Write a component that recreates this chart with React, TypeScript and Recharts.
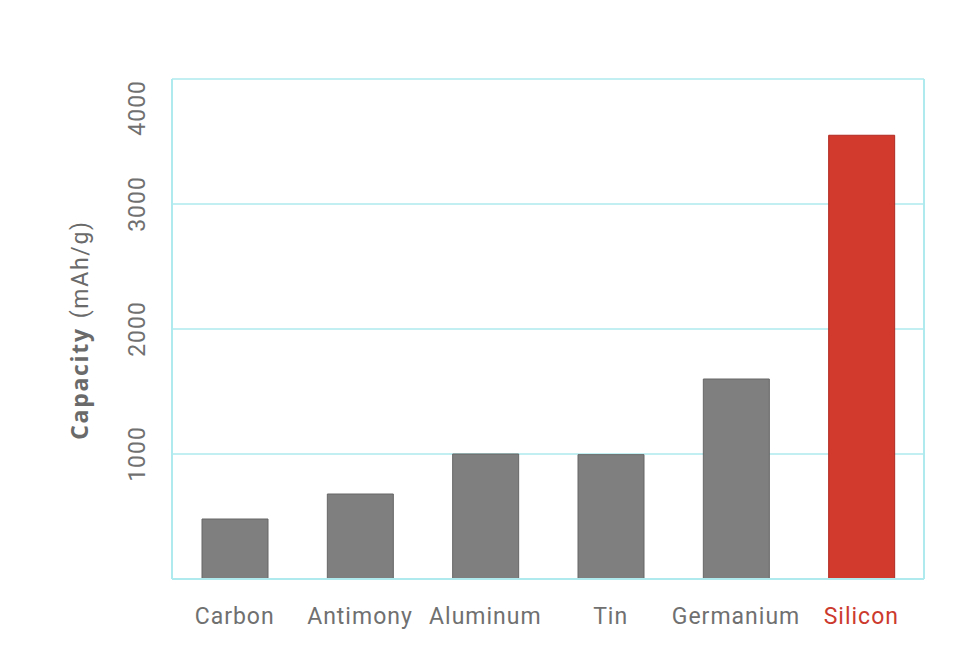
import React from "react";
import { BarChart, Bar, XAxis, YAxis, CartesianGrid, Cell, ReferenceLine, Label } from "recharts";

const categories = ["Carbon", "Antimony", "Aluminum", "Tin", "Germanium", "Silicon"];
const capacities = [480, 680, 1000, 995, 1600, 3550];
const yTicks = [0, 1000, 2000, 3000, 4000];
const highlight = "Silicon";

const data = categories.map((name, i) => ({ name, capacity: capacities[i] }));

const GRID = "#aeeaee";
const TEXT = "#707070";
const RED = "#d13a2c";
const RED_STROKE = "#b02a20";
const GRAY = "#7f7f7f";
const GRAY_STROKE = "#676767";
const FONT = "Roboto, 'DejaVu Sans', sans-serif";

const YTick = (props: any) => {
  const { x, y, payload } = props;
  if (payload.value === 0) return null;
  const isTop = payload.value === yTicks[yTicks.length - 1];
  const tx = x - 27;
  const ty = isTop ? y + 1 : y;
  return (
    <text
      x={tx}
      y={ty}
      transform={`rotate(-90, ${tx}, ${ty})`}
      textAnchor={isTop ? "end" : "middle"}
      fill={TEXT}
      fontSize={23}
      letterSpacing={1}
      fontFamily={FONT}
    >
      {payload.value}
    </text>
  );
};

const XTick = (props: any) => {
  const { x, y, payload } = props;
  const isHi = payload.value === highlight;
  return (
    <text
      x={x}
      y={y + 45}
      textAnchor="middle"
      fill={isHi ? "#cc3a2e" : TEXT}
      fontSize={23}
      letterSpacing={1}
      fontFamily={FONT}
    >
      {payload.value}
    </text>
  );
};

const YLabel = (props: any) => {
  const vb = props.viewBox || {};
  const cy = (vb.y ?? 79) + (vb.height ?? 500) / 2 + 1;
  const tx = 88;
  return (
    <text
      x={tx}
      y={cy}
      transform={`rotate(-90, ${tx}, ${cy})`}
      textAnchor="middle"
      fill="#6a6a6a"
      fontSize={23}
    >
      <tspan fontFamily="'Open Sans', sans-serif" fontWeight={700} letterSpacing={1.7}>
        Capacity
      </tspan>
      <tspan fontFamily={FONT} fontWeight={400} letterSpacing={1.7} dx={9}>
        (mAh/g)
      </tspan>
    </text>
  );
};

export default function App() {
  return (
    <div style={{ position: "absolute", left: 0, top: 0, background: "#fff" }}>
      <BarChart
        width={976}
        height={660}
        data={data}
        margin={{ top: 79, right: 52, left: 0, bottom: 21 }}
      >
        <CartesianGrid stroke={GRID} strokeWidth={1.5} vertical={false} />
        <XAxis
          dataKey="name"
          height={60}
          tickLine={false}
          tickSize={0}
          tickMargin={0}
          axisLine={{ stroke: GRID, strokeWidth: 2 }}
          tick={<XTick />}
          interval={0}
        />
        <YAxis
          width={172}
          domain={[0, 4000]}
          ticks={yTicks}
          tickLine={false}
          tickSize={0}
          tickMargin={0}
          axisLine={{ stroke: GRID, strokeWidth: 2 }}
          tick={<YTick />}
        >
          <Label content={<YLabel />} />
        </YAxis>
        <ReferenceLine x={categories[categories.length - 1]} position="end" stroke={GRID} strokeWidth={2} />
        <Bar dataKey="capacity" barSize={66} isAnimationActive={false} strokeWidth={1}>
          {data.map((d) => (
            <Cell
              key={d.name}
              fill={d.name === highlight ? RED : GRAY}
              stroke={d.name === highlight ? RED_STROKE : GRAY_STROKE}
            />
          ))}
        </Bar>
      </BarChart>
    </div>
  );
}
